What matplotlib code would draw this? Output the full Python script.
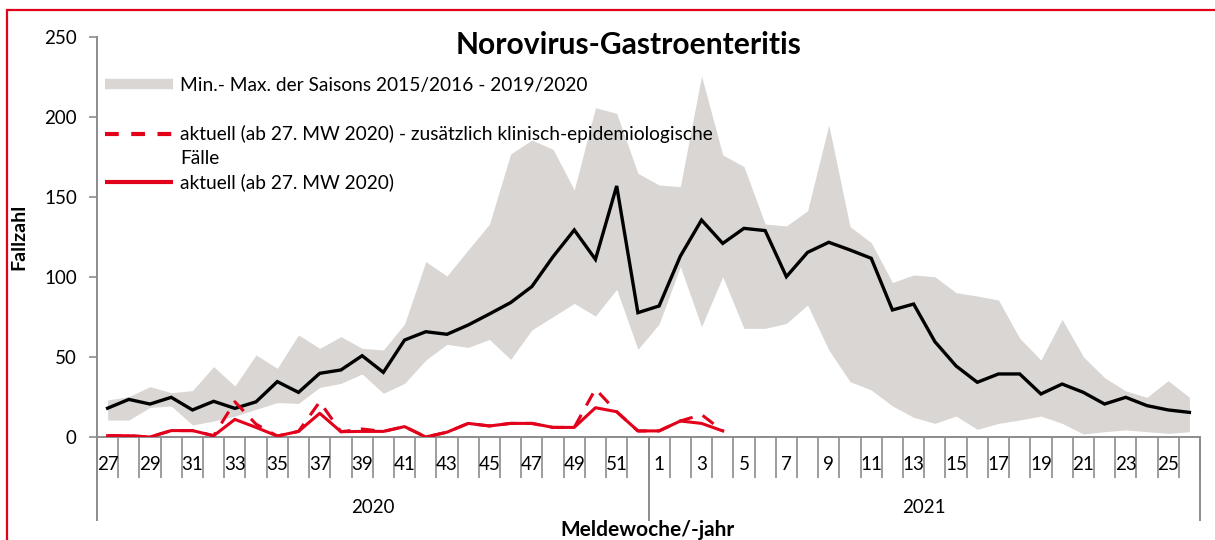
import numpy as np
import matplotlib
matplotlib.use("Agg")
import matplotlib.pyplot as plt
from matplotlib.lines import Line2D
from matplotlib.patches import Rectangle
import matplotlib.transforms as mtransforms

plt.rcParams['font.family'] = ['Lato', 'DejaVu Sans']

# Meldewochen 27/2020 .. 26/2021
weeks = list(range(27, 53)) + list(range(1, 27))
years = ['2020', '2021']

# black line
saison = [18, 23.5, 20.6, 24.8, 16.9, 22.3, 17.9, 22, 34.6, 27.9, 39.8, 41.9, 50.8,
          40.4, 60.6, 65.8, 64.2, 70, 76.9, 84, 94, 112.7, 129.4, 111, 156.9, 77.7,
          81.9, 113, 135.6, 121, 130.4, 129, 100.2, 115.4, 121.7, 116.9, 111.7, 79.4,
          83.1, 59.6, 44.4, 34.2, 39.4, 39.4, 26.9, 33.1, 27.9, 20.6, 24.8, 19.6,
          16.9, 15.4]

# min / max of seasons 2015/2016 - 2019/2020
band_max = [23.1, 25.2, 31.5, 27.7, 29, 44, 31.9, 51.3, 42.9, 63.8, 55.4, 62.7, 55.4,
            54.4, 70.6, 109.6, 100.6, 117, 133, 176.9, 185.6, 179.8, 154.4, 205.8,
            202.3, 164.8, 157.5, 156.5, 225.6, 176.3, 169, 133.1, 131.9, 141.4, 195,
            131.5, 121.5, 96.5, 101.3, 100.2, 90.2, 88.1, 85.6, 61.7, 48.1, 73.5,
            50.2, 37.1, 28.8, 24.8, 35.2, 24.8]
band_min = [10.6, 10.6, 18.5, 19.4, 7.5, 10, 13.1, 17.3, 21.5, 21, 31, 33.5, 39.4,
            27.3, 33.5, 48.1, 57.9, 56, 61, 48.5, 66.9, 75.2, 83.5, 75.6, 92.3, 54.8,
            70.6, 106.5, 69, 100.2, 67.9, 67.9, 71, 82.5, 54.4, 34.6, 29.4, 19.4,
            12.3, 8.5, 13.1, 4.8, 8.5, 10.6, 13.1, 8.5, 1.9, 3.3, 4.4, 3.3, 2.3, 3.3]

# current season (ab 27. MW 2020)
aktuell = [0.8, 0.8, 0, 4, 4, 0.8, 11, 6, 0.6, 3.5, 14.8, 3.3, 3.5, 3.5, 6.5, 0, 3,
           8.5, 6.9, 8.5, 8.5, 6, 6, 18.3, 15.8, 3.8, 3.8, 10, 8.5, 3.8]
aktuell_klin = [0.8, 0.8, 0, 4, 4, 0.8, 22, 8, 0.6, 3.5, 22, 3.3, 5, 3.5, 6.5, 0, 3,
                8.5, 6.9, 8.5, 8.5, 6, 6, 30, 15.8, 3.8, 3.8, 10, 14, 3.8]

RED = '#e2001a'
GREY = '#d9d6d4'
AXC = '#8c8c8c'

x = np.arange(len(weeks))

fig = plt.figure(figsize=(12.15, 5.4), dpi=100)
ax = fig.add_axes([97 / 1215, 1 - 437 / 540, 1103 / 1215, 400 / 540])

ax.fill_between(x, band_min, band_max, color=GREY, lw=0, zorder=1)
ax.plot(x, saison, color='black', lw=2.4, zorder=3, solid_joinstyle='miter')
xa = x[:len(aktuell)]
ax.plot(xa, aktuell_klin, color=RED, lw=2.2, dashes=(4.5, 3.5), zorder=4)
ax.plot(xa, aktuell, color=RED, lw=2.2, zorder=5)

ax.set_xlim(-0.5, len(weeks) - 0.5)
ax.set_ylim(0, 250)
ax.set_yticks([0, 50, 100, 150, 200, 250])

for s in ['top', 'right']:
    ax.spines[s].set_visible(False)
for s in ['left', 'bottom']:
    ax.spines[s].set_color(AXC)
    ax.spines[s].set_linewidth(1.4)

ax.tick_params(axis='y', direction='out', length=5.5, width=1.2, color=AXC,
               labelsize=13.5, pad=9)

# category boundaries as long ticks, labels every second week
ax.set_xticks(np.arange(-0.5, len(weeks), 1.0))
ax.set_xticklabels([])
ax.tick_params(axis='x', which='major', direction='out', length=29.5, width=1.2,
               color=AXC)
ax.set_xticks(x[::2], minor=True)
ax.set_xticklabels([str(w) for w in weeks[::2]], minor=True)
ax.tick_params(axis='x', which='minor', length=0, labelsize=13.5, pad=14)

# year separators
trans = mtransforms.blended_transform_factory(ax.transData, ax.transAxes)
for b in [-0.5, 25.5, len(weeks) - 0.5]:
    ax.add_line(Line2D([b, b], [0, -83 / 400], transform=trans, color=AXC, lw=1.4,
                       clip_on=False))
ax.text(12.5, -76 / 400, years[0], transform=trans, ha='center', va='baseline',
        fontsize=13.5)
ax.text(38.5, -76 / 400, years[1], transform=trans, ha='center', va='baseline',
        fontsize=13.5)

ax.set_ylabel('Fallzahl', fontsize=14, fontweight='bold')
ax.yaxis.set_label_coords((27 - 97) / 1103, 0.5)
fig.text(648 / 1215, 1 - 536 / 540, 'Meldewoche/-jahr', ha='center', va='baseline',
         fontsize=15, fontweight='bold')
fig.text(629 / 1215, 1 - 45 / 540, 'Norovirus-Gastroenteritis', ha='center',
         va='center', fontsize=21.6, fontweight='bold')

# legend
def ax_pt(px, py):
    return (px - 97) / 1103, (437 - py) / 400

lx0, _ = ax_pt(105, 0)
lx1, _ = ax_pt(173, 0)
tx, _ = ax_pt(180, 0)
_, y1 = ax_pt(0, 85)
_, y2 = ax_pt(0, 134)
_, y2b = ax_pt(0, 158)
_, y3 = ax_pt(0, 182)
ax.add_line(Line2D([lx0, lx1], [y1 + 0.003, y1 + 0.003], transform=ax.transAxes,
                   color=GREY, lw=7.5, solid_capstyle='butt'))
ax.add_line(Line2D([lx0, lx1], [y2, y2], transform=ax.transAxes, color=RED, lw=3,
                   dashes=(3.3, 3), dash_capstyle='butt'))
ax.add_line(Line2D([lx0, lx1], [y3, y3], transform=ax.transAxes, color=RED, lw=3,
                   solid_capstyle='butt'))
LFS = 13.8
ax.text(tx, y1, 'Min.- Max. der Saisons 2015/2016 - 2019/2020', transform=ax.transAxes,
        va='center', fontsize=LFS)
ax.text(tx, y2, 'aktuell (ab 27. MW 2020) - zusätzlich klinisch-epidemiologische',
        transform=ax.transAxes, va='center', fontsize=LFS)
ax.text(tx, y2b, 'Fälle', transform=ax.transAxes, va='center', fontsize=LFS)
ax.text(tx, y3, 'aktuell (ab 27. MW 2020)', transform=ax.transAxes, va='center',
        fontsize=LFS)

# red frame
fig.patches.append(Rectangle((7.3 / 1215, -0.02), 1.02, 1 - 9.5 / 540 + 0.02,
                             transform=fig.transFigure, fill=False, edgecolor=RED,
                             lw=1.6, clip_on=False))

fig.savefig('out.png', dpi=100)
